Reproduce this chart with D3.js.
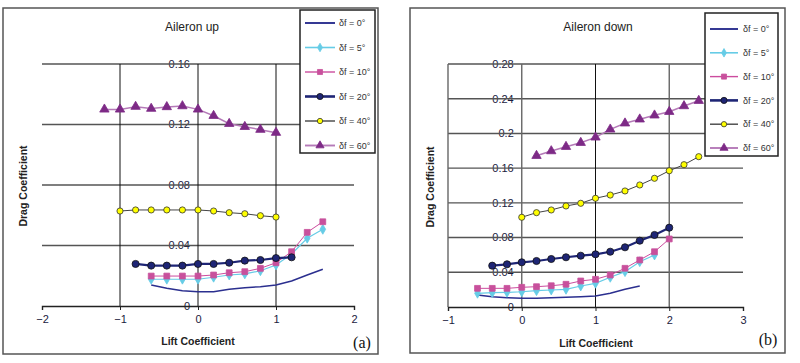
<!DOCTYPE html>
<html><head><meta charset="utf-8">
<script src="https://cdn.jsdelivr.net/npm/d3@7"></script>
<style>body{margin:0;background:#fff;}svg{display:block;font-family:"Liberation Sans",Arial,sans-serif;}</style>
</head><body><svg id="c" width="800" height="363"></svg>
<script>
// ---------- data ----------
const legendLabels = ["δf = 0°","δf = 5°","δf = 10°","δf = 20°","δf = 40°","δf = 60°"];

const upXTicks = [-2,-1,0,1,2];
const upYTicks = [0,0.04,0.08,0.12,0.16];
const upYTickLabels = ["0","0.04","0.08","0.12","0.16"];
const dnXTicks = [-1,0,1,2,3];
const dnYTicks = [0,0.04,0.08,0.12,0.16,0.2,0.24,0.28];
const dnYTickLabels = ["0","0.04","0.08","0.12","0.16","0.2","0.24","0.28"];

// Aileron up
const upCl0  = [-0.6,-0.4,-0.2,0,0.2,0.4,0.6,0.8,1.0,1.2,1.4,1.6];
const upCd0  = [0.0139,0.0117,0.0101,0.0095,0.0095,0.0110,0.0121,0.0128,0.0139,0.0165,0.0205,0.0243];
const upCl5  = [-0.6,-0.4,-0.2,0,0.2,0.4,0.6,0.8,1.0,1.2,1.4,1.6];
const upCd5  = [0.0177,0.0177,0.0177,0.0177,0.0190,0.0205,0.0212,0.0233,0.0271,0.0344,0.0448,0.0507];
const upCl10 = [-0.6,-0.4,-0.2,0,0.2,0.4,0.6,0.8,1.0,1.2,1.4,1.6];
const upCd10 = [0.0198,0.0198,0.0198,0.0198,0.0205,0.0220,0.0227,0.0249,0.0286,0.0359,0.0487,0.0557];
const upCl20 = [-0.8,-0.6,-0.4,-0.2,0,0.2,0.4,0.6,0.8,1.0,1.2];
const upCd20 = [0.0278,0.0267,0.0267,0.0267,0.0278,0.0278,0.0286,0.0300,0.0304,0.0317,0.0322];
const upCl40 = [-1.0,-0.8,-0.6,-0.4,-0.2,0,0.2,0.4,0.6,0.8,1.0];
const upCd40 = [0.0628,0.0635,0.0635,0.0635,0.0635,0.0635,0.0628,0.0617,0.0610,0.0597,0.0588];
const upCl60 = [-1.2,-1.0,-0.8,-0.6,-0.4,-0.2,0,0.2,0.4,0.6,0.8,1.0];
const upCd60 = [0.1300,0.1300,0.1318,0.1305,0.1316,0.1322,0.1300,0.1258,0.1205,0.1185,0.1166,0.1146];

// Aileron down
const dnCl0  = [-0.6,-0.4,-0.2,0,0.2,0.4,0.6,0.8,1.0,1.2,1.4,1.6];
const dnCd0  = [0.0138,0.0119,0.0107,0.0100,0.0100,0.0107,0.0112,0.0119,0.0127,0.0158,0.0204,0.0242];
const dnCl5  = [-0.6,-0.4,-0.2,0,0.2,0.4,0.6,0.8,1.0,1.2,1.4,1.6,1.8];
const dnCd5  = [0.0158,0.0165,0.0169,0.0176,0.0188,0.0196,0.0204,0.0242,0.0273,0.0342,0.0407,0.0522,0.0599];
const dnCl10 = [-0.6,-0.4,-0.2,0,0.2,0.4,0.6,0.8,1.0,1.2,1.4,1.6,1.8,2.0];
const dnCd10 = [0.0215,0.0215,0.0215,0.0227,0.0234,0.0245,0.0262,0.0300,0.0319,0.0369,0.0446,0.0542,0.0637,0.0784];
const dnCl20 = [-0.4,-0.2,0,0.2,0.4,0.6,0.8,1.0,1.2,1.4,1.6,1.8,2.0];
const dnCd20 = [0.0476,0.0492,0.0515,0.0530,0.0553,0.0573,0.0591,0.0607,0.0637,0.0688,0.0764,0.0830,0.0914];
const dnCl40 = [0,0.2,0.4,0.6,0.8,1.0,1.2,1.4,1.6,1.8,2.0,2.2,2.4];
const dnCd40 = [0.1034,0.1087,0.1118,0.1164,0.1195,0.1253,0.1290,0.1337,0.1406,0.1483,0.1570,0.1640,0.1732];
const dnCl60 = [0.2,0.4,0.6,0.8,1.0,1.2,1.4,1.6,1.8,2.0,2.2,2.4];
const dnCd60 = [0.1743,0.1797,0.1847,0.1893,0.1955,0.2047,0.2117,0.2163,0.2209,0.2250,0.2316,0.2377];

// ---------- styles ----------
const styles = [
  {line:"#2b2f8f", lw:1.5, marker:null},
  {line:"#66cce6", lw:1.2, marker:"diamond", fill:"#66cce6", stroke:"#66cce6", size:28},
  {line:"#cc4c9e", lw:1.0, marker:"square", fill:"#c8509c", stroke:"#c8509c", size:34},
  {line:"#1e2575", lw:2.2, marker:"circle", fill:"#1e2575", stroke:"#111", size:40},
  {line:"#444", lw:1.0, marker:"circle", fill:"#ffff00", stroke:"#333", size:30},
  {line:"#b57ab8", lw:1.5, marker:"triangle", fill:"#7d2a86", stroke:"#7d2a86", size:38}
];
const symMap = {diamond:d3.symbolDiamond, square:d3.symbolSquare, circle:d3.symbolCircle, triangle:d3.symbolTriangle};

const svg = d3.select("#c");

function panel(cfg){
  const g = svg.append("g");
  g.append("rect").attr("x",cfg.frame[0]).attr("y",cfg.frame[1]).attr("width",cfg.frame[2]).attr("height",cfg.frame[3])
    .attr("fill","#fff").attr("stroke","#555").attr("stroke-width",1.5);
  const x = d3.scaleLinear().domain(cfg.xDomain).range(cfg.xRange);
  const y = d3.scaleLinear().domain(cfg.yDomain).range(cfg.yRange);
  g.selectAll(".yl").data(cfg.yTicks).join("text")
    .attr("x", x(0)-8).attr("y", d=>y(d)).attr("dy","0.35em")
    .attr("text-anchor","end").attr("font-size",11).attr("fill","#1a1a40")
    .text((d,i)=>cfg.yTickLabels[i]);
  g.selectAll(".hg").data(cfg.yTicks.filter(d=>d>0)).join("line")
    .attr("x1",x(cfg.xDomain[0])).attr("x2",x(cfg.xDomain[1]))
    .attr("y1",d=>y(d)).attr("y2",d=>y(d)).attr("stroke","#555").attr("stroke-width",1.4);
  g.selectAll(".vg").data(cfg.vLines).join("line")
    .attr("x1",d=>x(d.v)).attr("x2",d=>x(d.v))
    .attr("y1",y(cfg.yDomain[1])).attr("y2",y(0)).attr("stroke",d=>d.c).attr("stroke-width",d=>d.w);
  const ax = g.append("g").attr("transform",`translate(0,${y(0)})`)
    .call(d3.axisBottom(x).tickValues(cfg.xTicks).tickSize(4).tickFormat(d3.format("d")));
  ax.select(".domain").attr("stroke","#222").attr("stroke-width",1.4);
  ax.selectAll(".tick line").attr("stroke","#222");
  ax.selectAll(".tick text").attr("font-size",11).attr("fill","#1a1a40").attr("dy","0.95em")
    .attr("font-family","'Liberation Sans',Arial,sans-serif");
  cfg.series.forEach((s,i)=>{
    const st = styles[i];
    const pts = s.x.map((v,j)=>[v,s.y[j]]);
    g.append("path").datum(pts)
      .attr("d", d3.line().x(d=>x(d[0])).y(d=>y(d[1])))
      .attr("fill","none").attr("stroke",st.line).attr("stroke-width",st.lw);
    if(st.marker){
      g.selectAll(null).data(pts).join("path")
        .attr("transform",d=>`translate(${x(d[0])},${y(d[1])})`)
        .attr("d", d3.symbol().type(symMap[st.marker]).size(st.size))
        .attr("fill",st.fill).attr("stroke",st.stroke).attr("stroke-width",0.8);
    }
  });
  g.append("text").attr("x",cfg.title[1]).attr("y",cfg.title[2]).attr("text-anchor","middle")
    .attr("font-size",12).attr("fill","#222").text(cfg.title[0]);
  g.append("text").attr("transform",`translate(${cfg.yTitle[0]},${cfg.yTitle[1]}) rotate(-90)`)
    .attr("text-anchor","middle").attr("font-size",10.5).attr("font-weight","bold").attr("fill","#222")
    .text("Drag Coefficient");
  g.append("text").attr("x",cfg.xTitle[0]).attr("y",cfg.xTitle[1]).attr("text-anchor","middle")
    .attr("font-size",10.5).attr("font-weight","bold").attr("fill","#222").text("Lift Coefficient");
  g.append("text").attr("x",cfg.tag[1]).attr("y",cfg.tag[2]).attr("text-anchor","middle")
    .attr("font-family","'Liberation Serif','Times New Roman',serif").attr("font-size",16).attr("fill","#111")
    .text(cfg.tag[0]);
  const L = cfg.legend;
  g.append("rect").attr("x",L.x).attr("y",L.y).attr("width",L.w).attr("height",L.h)
    .attr("fill","#fff").attr("stroke","#222").attr("stroke-width",1.5);
  legendLabels.forEach((lab,i)=>{
    const st = styles[i];
    const yy = L.y0 + i*L.dy;
    g.append("line").attr("x1",L.sx).attr("x2",L.sx+L.sw).attr("y1",yy).attr("y2",yy)
      .attr("stroke",st.line).attr("stroke-width",st.lw+0.4);
    if(st.marker){
      g.append("path").attr("transform",`translate(${L.sx+L.sw/2},${yy})`)
        .attr("d", d3.symbol().type(symMap[st.marker]).size(st.size*0.75))
        .attr("fill",st.fill).attr("stroke",st.stroke).attr("stroke-width",0.8);
    }
    g.append("text").attr("x",L.tx).attr("y",yy).attr("dy","0.35em").attr("font-size",9)
      .attr("fill","#333").text(lab);
  });
}

panel({
  frame:[3,8,375,346],
  xDomain:[-2,2], xRange:[42,354], yDomain:[0,0.16], yRange:[306,64],
  xTicks:upXTicks, yTicks:upYTicks, yTickLabels:upYTickLabels,
  vLines:[{v:-1,c:"#111",w:1},{v:0,c:"#111",w:1},{v:1,c:"#111",w:1}],
  series:[{x:upCl0,y:upCd0},{x:upCl5,y:upCd5},{x:upCl10,y:upCd10},{x:upCl20,y:upCd20},{x:upCl40,y:upCd40},{x:upCl60,y:upCd60}],
  title:["Aileron up",192,31], yTitle:[27,186], xTitle:[198,345], tag:["(a)",362,348],
  legend:{x:300,y:10,w:75,h:143,y0:23,dy:24.5,sx:305,sw:30,tx:339}
});
panel({
  frame:[410,8,375,345],
  xDomain:[-1,3], xRange:[448,743], yDomain:[0,0.28], yRange:[307,64],
  xTicks:dnXTicks, yTicks:dnYTicks, yTickLabels:dnYTickLabels,
  vLines:[{v:-1,c:"#666",w:1.4},{v:0,c:"#666",w:1.4},{v:1,c:"#111",w:1},{v:2,c:"#666",w:1.4}],
  series:[{x:dnCl0,y:dnCd0},{x:dnCl5,y:dnCd5},{x:dnCl10,y:dnCd10},{x:dnCl20,y:dnCd20},{x:dnCl40,y:dnCd40},{x:dnCl60,y:dnCd60}],
  title:["Aileron down",598,31], yTitle:[434,187], xTitle:[596,347], tag:["(b)",768,345],
  legend:{x:705,y:13,w:73,h:143,y0:29,dy:23.8,sx:710,sw:28,tx:743}
});
</script></body></html>
